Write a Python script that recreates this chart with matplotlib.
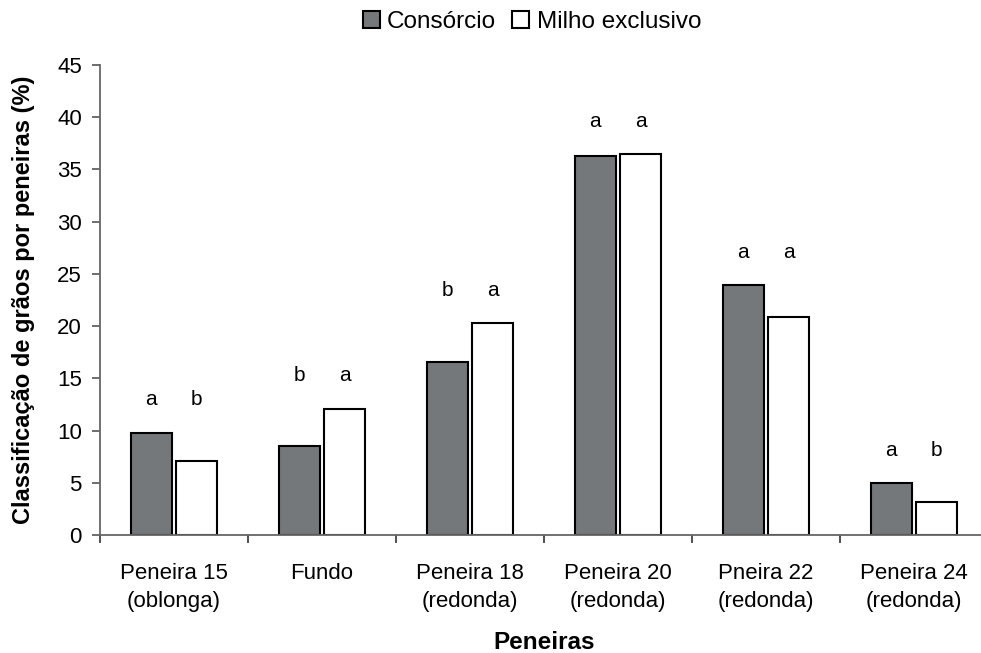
import matplotlib.pyplot as plt
import numpy as np

plt.rcParams['font.family'] = ['Liberation Sans', 'DejaVu Sans']

categorias = ["Peneira 15\n(oblonga)", "Fundo", "Peneira 18\n(redonda)",
              "Peneira 20\n(redonda)", "Pneira 22\n(redonda)", "Peneira 24\n(redonda)"]
consorcio = [9.8, 8.5, 16.6, 36.3, 23.9, 5.0]
milho = [7.1, 12.1, 20.3, 36.5, 20.9, 3.2]
letras_consorcio = ["a", "b", "b", "a", "a", "a"]
letras_milho = ["b", "a", "a", "a", "a", "b"]

fig, ax = plt.subplots(figsize=(9.81, 6.53), dpi=100)
fig.subplots_adjust(left=0.1019, right=1.0071, top=0.9005, bottom=0.1807)

x = np.arange(len(categorias))
w = 0.277
off = 0.154
ax.bar(x - off, consorcio, w, color='#75787a', edgecolor='black', linewidth=1.5, label='Consórcio')
ax.bar(x + off, milho, w, color='white', edgecolor='black', linewidth=1.5, label='Milho exclusivo')

# letras das médias
for i in range(len(x)):
    ytxt = max(consorcio[i], milho[i]) + 2.6
    ax.text(x[i] - off, ytxt, letras_consorcio[i], ha='center', va='baseline', fontsize=15)
    ax.text(x[i] + off, ytxt, letras_milho[i], ha='center', va='baseline', fontsize=15)

ax.set_xlim(-0.5, len(x) - 0.5)
ax.set_ylim(0, 45)
ax.set_yticks(range(0, 46, 5))
ax.set_xticks(x)
ax.set_xticklabels(categorias, fontsize=16, linespacing=1.45)
ax.set_xticks(np.arange(-0.5, len(x)), minor=True)
ax.tick_params(axis='x', which='major', length=0, pad=20)
ax.tick_params(axis='x', which='minor', length=6, width=1.2, direction='out', color='#333333')
ax.tick_params(axis='y', labelsize=16, length=6, width=1.2, pad=7, color='#555555')

for s in ['top', 'right']:
    ax.spines[s].set_visible(False)
for s in ['left', 'bottom']:
    ax.spines[s].set_color('#666666')
    ax.spines[s].set_linewidth(1.3)

ax.set_ylabel('Classificação de grãos por peneiras (%)', fontsize=17, fontweight='bold', va='center')
ax.yaxis.set_label_coords(-0.0856, 0.5)
ax.set_xlabel('Peneiras', fontsize=17.5, fontweight='bold', va='center')
ax.xaxis.set_label_coords(0.5, -0.2277)

fig.legend(loc='center', bbox_to_anchor=(532 / 981, 1 - 22 / 653), ncol=2, frameon=False,
           fontsize=17.5, handlelength=0.7, handleheight=0.7, handletextpad=0.3,
           columnspacing=0.66, borderpad=0)

plt.savefig('out.png')
